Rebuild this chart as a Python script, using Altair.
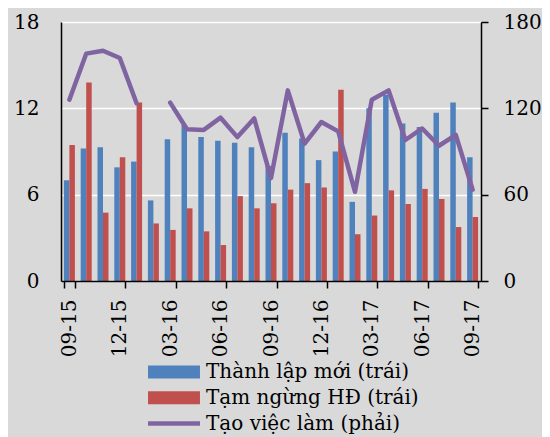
import altair as alt
import pandas as pd

months = ["09-15", "10-15", "11-15", "12-15", "01-16", "02-16", "03-16", "04-16",
          "05-16", "06-16", "07-16", "08-16", "09-16", "10-16", "11-16", "12-16",
          "01-17", "02-17", "03-17", "04-17", "05-17", "06-17", "07-17", "08-17", "09-17"]
new_firms = [7.0, 9.2, 9.3, 7.9, 8.3, 5.6, 9.85, 10.85, 10.0, 9.75, 9.6, 9.3, 8.0,
             10.3, 9.9, 8.4, 9.0, 5.5, 12.0, 12.95, 10.95, 10.7, 11.7, 12.4, 8.6]
suspended = [9.45, 13.8, 4.75, 8.6, 12.4, 4.0, 3.55, 5.05, 3.45, 2.5, 5.9, 5.05, 5.4,
             6.35, 6.8, 6.5, 13.3, 3.25, 4.55, 6.3, 5.35, 6.4, 5.7, 3.75, 4.45]
jobs = [126, 158, 160, 155, 123.5, None, 124, 105.5, 105, 113.5, 100, 113, 71.5,
        132.5, 95.5, 110.5, 104, 62, 126, 132.5, 98, 106, 94, 101.5, 63.5]
series_names = ["Thành lập mới (trái)", "Tạm ngừng HĐ (trái)"]
series_colors = ["#4F81BD", "#C0504D"]
line_name = "Tạo việc làm (phải)"
line_color = "#8064A2"
tick_months = months[::3]
left_ticks = [0, 6, 12, 18]
right_ticks = [0, 60, 120, 180]

bars_df = pd.DataFrame({
    "month": months * 2,
    "series": [series_names[0]] * len(months) + [series_names[1]] * len(months),
    "value": new_firms + suspended,
})
line_df = pd.DataFrame({"month": months, "jobs": jobs, "name": [line_name] * len(months)})

FONT = "DejaVu Serif"
FS = 20
LFS = 20

x_enc = alt.X(
    "month:N", sort=months,
    scale=alt.Scale(domain=months, paddingInner=0.345, paddingOuter=0.1725),
    axis=alt.Axis(values=tick_months, tickBand="extent", labelAngle=270, tickSize=7,
                  labelPadding=11, title=None, grid=False, zindex=1),
)

bars = alt.Chart(bars_df).mark_bar().encode(
    x=x_enc,
    xOffset=alt.XOffset("series:N", sort=series_names, scale=alt.Scale(domain=series_names)),
    y=alt.Y("value:Q", scale=alt.Scale(domain=[0, 18]),
            axis=alt.Axis(values=left_ticks, title=None, grid=True, gridColor="white",
                          gridWidth=1.5, ticks=False, tickSize=0, labelPadding=22)),
    fill=alt.Fill("series:N",
                  scale=alt.Scale(domain=series_names, range=series_colors),
                  legend=alt.Legend(title=None, orient="none", legendX=103, legendY=340,
                                    symbolType="M-5,-1.25L5,-1.25L5,1.25L-5,1.25Z",
                                    symbolSize=108, labelOffset=22, rowPadding=5.8,
                                    labelLimit=0, padding=0, direction="vertical")),
)

line = alt.Chart(line_df).mark_line(
    strokeWidth=4.5, strokeCap="round", strokeJoin="round",
    invalid="break-paths-show-domains",
).encode(
    x=x_enc,
    y=alt.Y("jobs:Q", scale=alt.Scale(domain=[0, 180]),
            axis=alt.Axis(orient="right", values=right_ticks, title=None, grid=False,
                          tickSize=7, labelPadding=15)),
    stroke=alt.Stroke("name:N", scale=alt.Scale(domain=[line_name], range=[line_color]),
                      legend=alt.Legend(title=None, orient="none", legendX=103, legendY=391.5,
                                        symbolType="M-5,0L5,0", symbolSize=108,
                                        symbolStrokeWidth=4.5, labelOffset=22,
                                        labelLimit=0, padding=0)),
)

chart = alt.layer(bars, line).resolve_scale(
    y="independent", fill="independent", stroke="independent"
).properties(
    width=420, height=259,
    autosize=alt.AutoSizeParams(type="none"),
    padding={"left": 53, "top": 14, "right": 61, "bottom": 156},
    background="#D9D9D9",
).configure_view(stroke=None).configure_axis(
    labelFont=FONT, labelFontSize=FS, labelColor="black",
    domainColor="black", domainWidth=1.5, tickColor="black", tickWidth=1.5,
).configure_legend(
    labelFont=FONT, labelFontSize=LFS, labelColor="black",
)

chart.save("out.html", embed_options={"renderer": "svg", "actions": False})
